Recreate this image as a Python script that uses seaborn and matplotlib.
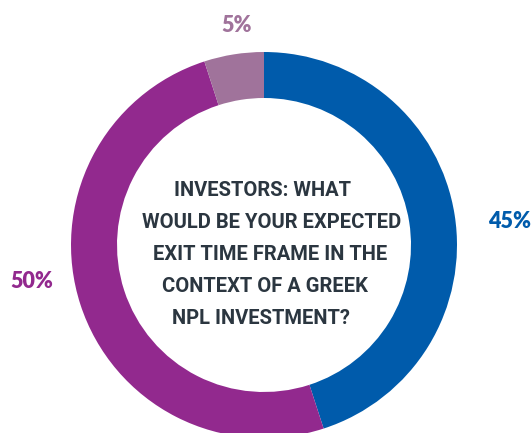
import matplotlib
matplotlib.use("Agg")
import matplotlib.pyplot as plt
import seaborn as sns

# Survey shares (clockwise from 12 o'clock)
labels = ["45%", "50%", "5%"]
shares = [45, 50, 5]
colors = ["#005BAB", "#92298E", "#A0739B"]
question = ["INVESTORS: WHAT",
            "WOULD BE YOUR EXPECTED",
            "EXIT TIME FRAME IN THE",
            "CONTEXT OF A GREEK",
            "NPL INVESTMENT?"]

sns.set_style("white")
plt.rcParams["font.family"] = ["Roboto", "DejaVu Sans"]

W, H = 532, 433
fig = plt.figure(figsize=(W / 100, H / 100), dpi=100)
ax = fig.add_axes([0, 0, 1, 1])

cx, cy, r = 264, H - 245, 193
ax.pie(shares, colors=colors, startangle=90, counterclock=False,
       center=(cx, cy), radius=r, frame=True,
       wedgeprops=dict(width=46, linewidth=0))
ax.set_xlim(0, W)
ax.set_ylim(0, H)
ax.set_aspect("equal")
ax.axis("off")

line_x = [262, 272, 270, 265, 261]
for i, (line, x) in enumerate(zip(question, line_x)):
    ax.text(x, H - (190 + 32 * i), line, ha="center", va="center",
            fontsize=14.5, fontweight="bold", color="#2B3640")

label_pos = [(510, H - 221), (32, H - 281), (237, H - 26)]
for lab, (x, y), c in zip(labels, label_pos, colors):
    ax.text(x, y, lab, ha="center", va="center", fontsize=15.5,
            fontweight="heavy", color=c, family=["Lato", "DejaVu Sans"])

fig.savefig("out.png", dpi=100)
